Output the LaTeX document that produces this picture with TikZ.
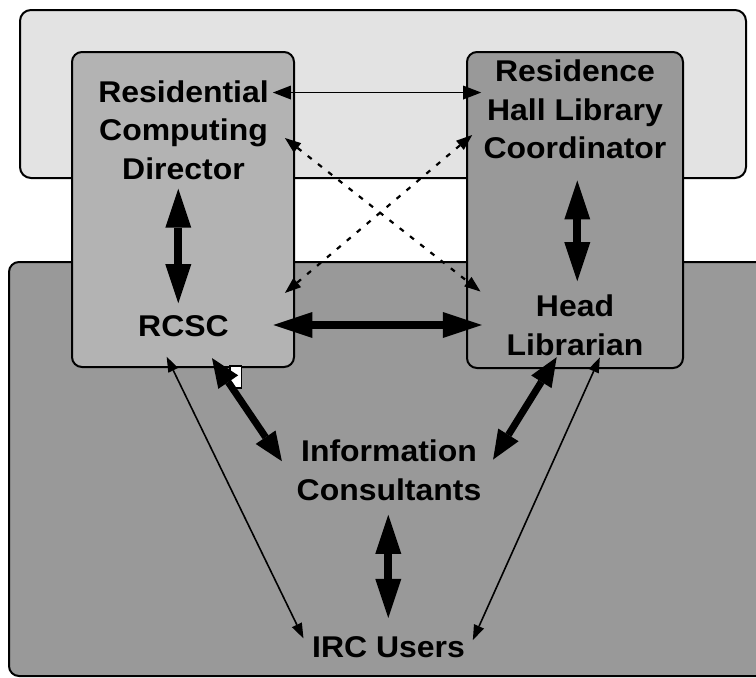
\documentclass[tikz,border=0pt]{standalone}
\usepackage{fontspec}
\newfontfamily\lblfont{Liberation Sans}[FakeStretch=1.065]
\usetikzlibrary{arrows.meta}
\definecolor{lightbg}{HTML}{E3E3E3}
\definecolor{darkbg}{HTML}{999999}
\definecolor{leftfill}{HTML}{B3B3B3}
\tikzset{
  lbl/.style={font=\lblfont\bfseries\fontsize{30}{38.5}\selectfont, align=center, inner sep=0pt},
  panel/.style={draw=black, line width=2pt, rounded corners=11pt},
  thickarr/.style={line width=8pt, arrows={Triangle[length=39pt,width=26pt,line width=0pt]-Triangle[length=39pt,width=26pt,line width=0pt]}},
  diagarr/.style={line width=7pt, arrows={Triangle[length=29pt,width=24pt,line width=0pt]-Triangle[length=29pt,width=24pt,line width=0pt]}},
  thinarr/.style={line width=1.6pt, arrows={Triangle[length=15pt,width=11pt,line width=0pt]-Triangle[length=15pt,width=11pt,line width=0pt]}},
  toparr/.style={line width=1.8pt, arrows={Triangle[length=18pt,width=14pt,line width=0pt]-Triangle[length=18pt,width=14pt,line width=0pt]}},
  dotarr/.style={line width=2.2pt, dash pattern=on 5pt off 8pt, arrows={Triangle[length=16pt,width=12pt,line width=0pt]-Triangle[length=16pt,width=12pt,line width=0pt]}},
}
\begin{document}
\begin{tikzpicture}[x=1pt,y=-1pt]
\clip (0,0) rectangle (756,678);
\useasboundingbox (0,0) rectangle (756,678);
\fill[white] (0,0) rectangle (756,678);
% background panels
\draw[panel, fill=lightbg] (20,10) rectangle (746,178);
\draw[panel, fill=darkbg, rounded corners=10pt] (9,262) rectangle (780,676);
% role boxes
\draw[panel, fill=leftfill, rounded corners=10pt] (72,52) rectangle (294,367);
\draw[panel, fill=darkbg, rounded corners=10pt] (467,52) rectangle (683,368);
% small white marker
\draw[fill=white, line width=1.5pt] (230,366) rectangle (241.5,388);
% texts
\node[lbl] (rcd) at (183.5,130) {Residential\\Computing\\Director};
\node[lbl] (rcsc) at (183.5,326.5) {RCSC};
\node[lbl] (rhlc) at (575,109.75) {Residence\\Hall Library\\Coordinator};
\node[lbl] (hl) at (575,325.5) {Head\\Librarian};
\node[lbl] (ic) at (389,470.2) {Information\\Consultants};
\node[lbl] (irc) at (388.5,647) {IRC Users};
% connectors
\draw[toparr] ([shift={(4,12.25)}]rcd.north east) -- ([shift={(-2.2,32.5)}]rhlc.north west);
\draw[dotarr] ([shift={(16,8)}]rcd.east) -- ([shift={(-26,-3.5)}]hl.north west);
\draw[dotarr] ([shift={(56,-22.75)}]rcsc.north east) -- ([shift={(-11.2,25.25)}]rhlc.west);
\draw[thickarr] ([shift={(-5.2,9)}]rcd.south) -- ([shift={(-5.2,-12.5)}]rcsc.north);
\draw[thickarr] ([shift={(2.3,21)}]rhlc.south) -- ([shift={(2.3,-13.8)}]hl.north);
\draw[thickarr] ([shift={(44.3,-1.5)}]rcsc.east) -- ([shift={(-24.6,-0.5)}]hl.west);
\draw[diagarr] ([shift={(-17,20.75)}]rcsc.south east) -- ([shift={(-14.6,21.5)}]ic.north west);
\draw[diagarr] ([shift={(-18.3,1.2)}]hl.south) -- ([shift={(11.6,19.8)}]ic.north east);
\draw[thickarr] ([shift={(-0.7,14.1)}]ic.south) -- ([shift={(-0.2,-18.2)}]irc.north);
\draw[thinarr] ([shift={(-16.8,19.5)}]rcsc.south) -- ([shift={(-8.5,-8.7)}]irc.west);
\draw[thinarr] ([shift={(-43.7,1.5)}]hl.south east) -- ([shift={(7.8,-7)}]irc.east);
\end{tikzpicture}
\end{document}
